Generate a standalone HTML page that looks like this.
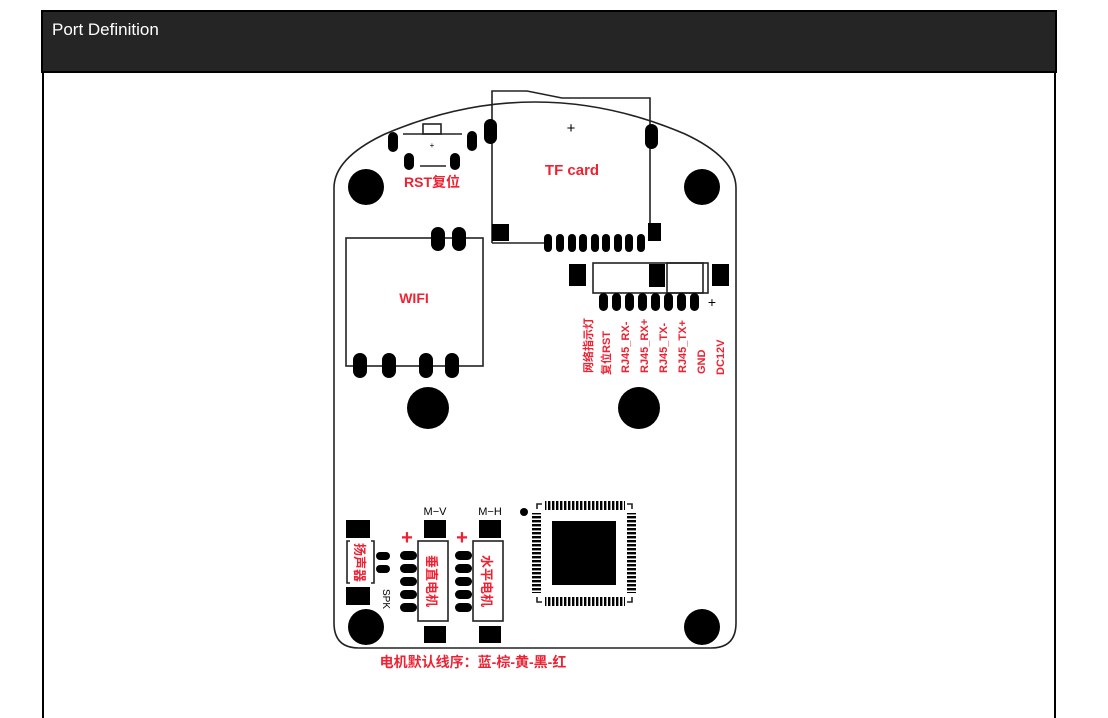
<!DOCTYPE html>
<html><head><meta charset="utf-8"><style>
html,body{margin:0;padding:0;background:#fff;width:1108px;height:718px;overflow:hidden}
svg{display:block}
</style></head><body>
<svg width="1108" height="718" viewBox="0 0 1108 718" xmlns="http://www.w3.org/2000/svg">
<defs>
<pattern id="vs" width="4" height="10" patternUnits="userSpaceOnUse"><rect x="0" y="0" width="2.4" height="10" fill="#000"/></pattern>
<pattern id="hs" width="10" height="4" patternUnits="userSpaceOnUse"><rect x="0" y="0" width="10" height="2.4" fill="#000"/></pattern>
</defs>
<!-- header -->
<rect x="42" y="11" width="1014" height="61" fill="#252525" stroke="#000" stroke-width="2"/>
<text x="52" y="35" font-family="Liberation Sans, sans-serif" font-size="17" fill="#fff">Port Definition</text>
<line x1="43" y1="72" x2="43" y2="718" stroke="#000" stroke-width="2"/>
<line x1="1055" y1="72" x2="1055" y2="718" stroke="#000" stroke-width="2"/>

<g fill="none" stroke="#222" stroke-width="1.6">
<!-- board -->
<path d="M334,188 Q334,158 385,134 Q535,70 685,134 Q736,158 736,188 L736,623 Q736,648 711,648 L359,648 Q334,648 334,623 Z" fill="#fff"/>
<!-- TF card -->
<path d="M492,243 L492,91 L527,91 L562,98 L650,98 L650,240"/>
<line x1="492" y1="243" x2="545" y2="243"/>
<!-- RST -->
<rect x="423" y="124" width="18" height="10"/>
<line x1="403" y1="134" x2="462" y2="134"/>
<line x1="420" y1="166" x2="446" y2="166"/>
<!-- WIFI -->
<rect x="346" y="238" width="137" height="128"/>
<!-- RJ45 -->
<rect x="593" y="263" width="115" height="30"/>
<rect x="667" y="263" width="36" height="30"/>
<!-- motors -->
<rect x="418" y="541" width="30" height="80"/>
<rect x="473" y="541" width="30" height="80"/>
<path d="M350,541 L347,541 L347,583 L350,583"/>
<path d="M371,541 L374,541 L374,583 L371,583"/>
<!-- chip corners -->
<path d="M537,509 L537,504 L542,504"/>
<path d="M627,504 L632,504 L632,509"/>
<path d="M537,597 L537,602 L542,602"/>
<path d="M627,602 L632,602 L632,597"/>
</g>

<g fill="#000">
<!-- holes -->
<circle cx="366" cy="187" r="18"/><circle cx="702" cy="187" r="18"/>
<circle cx="428" cy="408" r="21"/><circle cx="639" cy="408" r="21"/>
<circle cx="366" cy="627" r="18"/><circle cx="702" cy="627" r="18"/>
<!-- TF pads -->
<rect x="484" y="119" width="13" height="25" rx="6.5"/>
<rect x="645" y="124" width="13" height="25" rx="6.5"/>
<rect x="492" y="224" width="17" height="17"/>
<rect x="648" y="223" width="13" height="18"/>
<rect x="544" y="234" width="8" height="18" rx="4"/><rect x="556" y="234" width="8" height="18" rx="4"/><rect x="568" y="234" width="8" height="18" rx="4"/><rect x="579" y="234" width="8" height="18" rx="4"/><rect x="591" y="234" width="8" height="18" rx="4"/><rect x="602" y="234" width="8" height="18" rx="4"/><rect x="614" y="234" width="8" height="18" rx="4"/><rect x="625" y="234" width="8" height="18" rx="4"/><rect x="637" y="234" width="8" height="18" rx="4"/>
<!-- RST pads -->
<rect x="388" y="132" width="10" height="20" rx="5"/>
<rect x="467" y="131" width="10" height="20" rx="5"/>
<rect x="404" y="153" width="10" height="17" rx="5"/>
<rect x="450" y="153" width="10" height="17" rx="5"/>
<!-- WIFI pads -->
<rect x="431" y="227" width="14" height="24" rx="7"/><rect x="452" y="227" width="14" height="24" rx="7"/>
<rect x="353" y="353" width="14" height="25" rx="7"/><rect x="382" y="353" width="14" height="25" rx="7"/><rect x="419" y="353" width="14" height="25" rx="7"/><rect x="445" y="353" width="14" height="25" rx="7"/>
<!-- RJ45 -->
<rect x="569" y="264" width="17" height="22"/>
<rect x="649" y="264" width="16" height="23"/>
<rect x="712" y="264" width="17" height="22"/>
<rect x="599" y="293" width="9" height="18" rx="4.5"/><rect x="612" y="293" width="9" height="18" rx="4.5"/><rect x="625" y="293" width="9" height="18" rx="4.5"/><rect x="638" y="293" width="9" height="18" rx="4.5"/><rect x="651" y="293" width="9" height="18" rx="4.5"/><rect x="664" y="293" width="9" height="18" rx="4.5"/><rect x="677" y="293" width="9" height="18" rx="4.5"/><rect x="690" y="293" width="9" height="18" rx="4.5"/>
<!-- speaker -->
<rect x="346" y="520" width="24" height="18"/>
<rect x="346" y="587" width="24" height="18"/>
<rect x="376" y="552" width="14" height="8" rx="4"/>
<rect x="376" y="565" width="14" height="8" rx="4"/>
<!-- motor V -->
<rect x="424" y="520" width="22" height="18"/><rect x="424" y="626" width="22" height="17"/>
<rect x="400" y="551" width="17" height="9" rx="4.5"/><rect x="400" y="564" width="17" height="9" rx="4.5"/><rect x="400" y="577" width="17" height="9" rx="4.5"/><rect x="400" y="590" width="17" height="9" rx="4.5"/><rect x="400" y="603" width="17" height="9" rx="4.5"/>
<!-- motor H -->
<rect x="479" y="520" width="22" height="18"/><rect x="479" y="626" width="22" height="17"/>
<rect x="455" y="551" width="17" height="9" rx="4.5"/><rect x="455" y="564" width="17" height="9" rx="4.5"/><rect x="455" y="577" width="17" height="9" rx="4.5"/><rect x="455" y="590" width="17" height="9" rx="4.5"/><rect x="455" y="603" width="17" height="9" rx="4.5"/>
<!-- chip -->
<rect x="552" y="521" width="64" height="64"/>
<circle cx="524" cy="512" r="4"/>
</g>
<rect x="545" y="501" width="80" height="9" fill="url(#vs)"/>
<rect x="545" y="597" width="80" height="9" fill="url(#vs)"/>
<rect x="532" y="513" width="9" height="80" fill="url(#hs)"/>
<rect x="627" y="513" width="9" height="80" fill="url(#hs)"/>

<g font-family="Liberation Sans, sans-serif" fill="#000">
<text x="571" y="133" font-size="15" text-anchor="middle">+</text>
<text x="432" y="148" font-size="8" text-anchor="middle">+</text>
<text x="712" y="307" font-size="14" text-anchor="middle">+</text>
<text x="435" y="515" font-size="11" text-anchor="middle">M−V</text>
<text x="490" y="515" font-size="11" text-anchor="middle">M−H</text>
<text transform="translate(383,589) rotate(90)" font-size="10">SPK</text>
</g>

<g font-family="Liberation Sans, 'Noto Sans CJK SC', sans-serif" font-weight="bold" fill="#ee2233">
<text x="572" y="175" font-size="15" text-anchor="middle">TF card</text>
<text x="432" y="187" font-size="14" text-anchor="middle">RST复位</text>
<text x="414" y="303" font-size="14" text-anchor="middle">WIFI</text>
<text x="407" y="544" font-size="20" text-anchor="middle">+</text>
<text x="462" y="544" font-size="20" text-anchor="middle">+</text>
<text x="473" y="667" font-size="14" text-anchor="middle">电机默认线序：蓝-棕-黄-黑-红</text>
<g font-size="11">
<text transform="translate(592,373) rotate(-90)">网络指示灯</text>
<text transform="translate(610,375) rotate(-90)">复位RST</text>
<text transform="translate(629,373) rotate(-90)">RJ45_RX-</text>
<text transform="translate(648,373) rotate(-90)">RJ45_RX+</text>
<text transform="translate(667,373) rotate(-90)">RJ45_TX-</text>
<text transform="translate(686,373) rotate(-90)">RJ45_TX+</text>
<text transform="translate(705,374) rotate(-90)">GND</text>
<text transform="translate(724,375) rotate(-90)">DC12V</text>
</g>
<g font-size="13">
<text transform="translate(355,543) rotate(90)">扬声器</text>
<text transform="translate(427,555) rotate(90)">垂直电机</text>
<text transform="translate(482,555) rotate(90)">水平电机</text>
</g>
</g>
</svg>
</body></html>
